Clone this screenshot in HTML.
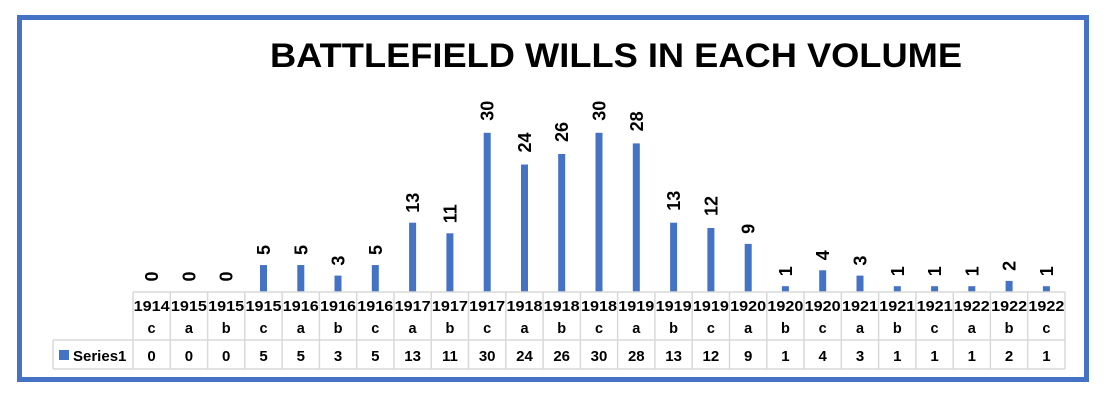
<!DOCTYPE html>
<html><head><meta charset="utf-8"><style>
html,body{margin:0;padding:0;background:#fff;}
svg{display:block;font-family:"Liberation Sans",Arial,sans-serif;font-weight:bold;}
text{font-weight:bold;}
.v{font-size:18px;}
.h{font-size:14.5px;text-anchor:middle;}
.d{font-size:15px;text-anchor:middle;}
.bar{fill:#4472C4;}
.gl{stroke:#D9D9D9;stroke-width:1.5;}
</style></head><body>
<svg width="1108" height="405" viewBox="0 0 1108 405" xmlns="http://www.w3.org/2000/svg">
<rect x="19.5" y="17.5" width="1067" height="362" fill="#fff" stroke="#4472C4" stroke-width="5"/>
<text x="616" y="67" text-anchor="middle" style="font-size:34px;font-weight:bold" textLength="692" lengthAdjust="spacingAndGlyphs">BATTLEFIELD WILLS IN EACH VOLUME</text>

<rect class="bar" x="260" y="265.05" width="7" height="26.45"/>
<rect class="bar" x="297.3" y="265.05" width="7" height="26.45"/>
<rect class="bar" x="334.5" y="275.6" width="7" height="15.9"/>
<rect class="bar" x="371.8" y="265.05" width="7" height="26.45"/>
<rect class="bar" x="409.1" y="222.7" width="7" height="68.8"/>
<rect class="bar" x="446.4" y="233.3" width="7" height="58.2"/>
<rect class="bar" x="483.7" y="132.8" width="7" height="158.7"/>
<rect class="bar" x="521" y="164.5" width="7" height="127"/>
<rect class="bar" x="558.2" y="154" width="7" height="137.5"/>
<rect class="bar" x="595.5" y="132.8" width="7" height="158.7"/>
<rect class="bar" x="632.8" y="143.4" width="7" height="148.1"/>
<rect class="bar" x="670.1" y="222.7" width="7" height="68.8"/>
<rect class="bar" x="707.4" y="228" width="7" height="63.5"/>
<rect class="bar" x="744.7" y="243.9" width="7" height="47.6"/>
<rect class="bar" x="781.9" y="286.2" width="7" height="5.3"/>
<rect class="bar" x="819.2" y="270.3" width="7" height="21.2"/>
<rect class="bar" x="856.5" y="275.6" width="7" height="15.9"/>
<rect class="bar" x="893.8" y="286.2" width="7" height="5.3"/>
<rect class="bar" x="931.1" y="286.2" width="7" height="5.3"/>
<rect class="bar" x="968.3" y="286.2" width="7" height="5.3"/>
<rect class="bar" x="1005.6" y="280.9" width="7" height="10.6"/>
<rect class="bar" x="1042.9" y="286.2" width="7" height="5.3"/>

<text class="v" transform="translate(158.1,281.5) rotate(-90)">0</text>
<text class="v" transform="translate(195.4,281.5) rotate(-90)">0</text>
<text class="v" transform="translate(232.7,281.5) rotate(-90)">0</text>
<text class="v" transform="translate(270,255) rotate(-90)">5</text>
<text class="v" transform="translate(307.3,255) rotate(-90)">5</text>
<text class="v" transform="translate(344.5,265.6) rotate(-90)">3</text>
<text class="v" transform="translate(381.8,255) rotate(-90)">5</text>
<text class="v" transform="translate(419.1,212.7) rotate(-90)">13</text>
<text class="v" transform="translate(456.4,223.3) rotate(-90)">11</text>
<text class="v" transform="translate(493.7,120.8) rotate(-90)">30</text>
<text class="v" transform="translate(531,152.5) rotate(-90)">24</text>
<text class="v" transform="translate(568.2,142) rotate(-90)">26</text>
<text class="v" transform="translate(605.5,120.8) rotate(-90)">30</text>
<text class="v" transform="translate(642.8,131.4) rotate(-90)">28</text>
<text class="v" transform="translate(680.1,210.7) rotate(-90)">13</text>
<text class="v" transform="translate(717.4,216) rotate(-90)">12</text>
<text class="v" transform="translate(754.7,233.9) rotate(-90)">9</text>
<text class="v" transform="translate(791.9,276.2) rotate(-90)">1</text>
<text class="v" transform="translate(829.2,260.3) rotate(-90)">4</text>
<text class="v" transform="translate(866.5,265.6) rotate(-90)">3</text>
<text class="v" transform="translate(903.8,276.2) rotate(-90)">1</text>
<text class="v" transform="translate(941.1,276.2) rotate(-90)">1</text>
<text class="v" transform="translate(978.3,276.2) rotate(-90)">1</text>
<text class="v" transform="translate(1015.6,270.9) rotate(-90)">2</text>
<text class="v" transform="translate(1052.9,276.2) rotate(-90)">1</text>

<g class="h">
<text x="151.6" y="311" textLength="36" lengthAdjust="spacingAndGlyphs">1914</text><text x="151.6" y="333">c</text>
<text x="188.9" y="311" textLength="36" lengthAdjust="spacingAndGlyphs">1915</text><text x="188.9" y="333">a</text>
<text x="226.2" y="311" textLength="36" lengthAdjust="spacingAndGlyphs">1915</text><text x="226.2" y="333">b</text>
<text x="263.5" y="311" textLength="36" lengthAdjust="spacingAndGlyphs">1915</text><text x="263.5" y="333">c</text>
<text x="300.8" y="311" textLength="36" lengthAdjust="spacingAndGlyphs">1916</text><text x="300.8" y="333">a</text>
<text x="338" y="311" textLength="36" lengthAdjust="spacingAndGlyphs">1916</text><text x="338" y="333">b</text>
<text x="375.3" y="311" textLength="36" lengthAdjust="spacingAndGlyphs">1916</text><text x="375.3" y="333">c</text>
<text x="412.6" y="311" textLength="36" lengthAdjust="spacingAndGlyphs">1917</text><text x="412.6" y="333">a</text>
<text x="449.9" y="311" textLength="36" lengthAdjust="spacingAndGlyphs">1917</text><text x="449.9" y="333">b</text>
<text x="487.2" y="311" textLength="36" lengthAdjust="spacingAndGlyphs">1917</text><text x="487.2" y="333">c</text>
<text x="524.5" y="311" textLength="36" lengthAdjust="spacingAndGlyphs">1918</text><text x="524.5" y="333">a</text>
<text x="561.7" y="311" textLength="36" lengthAdjust="spacingAndGlyphs">1918</text><text x="561.7" y="333">b</text>
<text x="599" y="311" textLength="36" lengthAdjust="spacingAndGlyphs">1918</text><text x="599" y="333">c</text>
<text x="636.3" y="311" textLength="36" lengthAdjust="spacingAndGlyphs">1919</text><text x="636.3" y="333">a</text>
<text x="673.6" y="311" textLength="36" lengthAdjust="spacingAndGlyphs">1919</text><text x="673.6" y="333">b</text>
<text x="710.9" y="311" textLength="36" lengthAdjust="spacingAndGlyphs">1919</text><text x="710.9" y="333">c</text>
<text x="748.2" y="311" textLength="36" lengthAdjust="spacingAndGlyphs">1920</text><text x="748.2" y="333">a</text>
<text x="785.4" y="311" textLength="36" lengthAdjust="spacingAndGlyphs">1920</text><text x="785.4" y="333">b</text>
<text x="822.7" y="311" textLength="36" lengthAdjust="spacingAndGlyphs">1920</text><text x="822.7" y="333">c</text>
<text x="860" y="311" textLength="36" lengthAdjust="spacingAndGlyphs">1921</text><text x="860" y="333">a</text>
<text x="897.3" y="311" textLength="36" lengthAdjust="spacingAndGlyphs">1921</text><text x="897.3" y="333">b</text>
<text x="934.6" y="311" textLength="36" lengthAdjust="spacingAndGlyphs">1921</text><text x="934.6" y="333">c</text>
<text x="971.8" y="311" textLength="36" lengthAdjust="spacingAndGlyphs">1922</text><text x="971.8" y="333">a</text>
<text x="1009.1" y="311" textLength="36" lengthAdjust="spacingAndGlyphs">1922</text><text x="1009.1" y="333">b</text>
<text x="1046.4" y="311" textLength="36" lengthAdjust="spacingAndGlyphs">1922</text><text x="1046.4" y="333">c</text>
</g>
<g class="d">
<text x="151.6" y="361">0</text><text x="188.9" y="361">0</text><text x="226.2" y="361">0</text>
<text x="263.5" y="361">5</text><text x="300.8" y="361">5</text><text x="338" y="361">3</text>
<text x="375.3" y="361">5</text><text x="412.6" y="361">13</text><text x="449.9" y="361">11</text>
<text x="487.2" y="361">30</text><text x="524.5" y="361">24</text><text x="561.7" y="361">26</text>
<text x="599" y="361">30</text><text x="636.3" y="361">28</text><text x="673.6" y="361">13</text>
<text x="710.9" y="361">12</text><text x="748.2" y="361">9</text><text x="785.4" y="361">1</text>
<text x="822.7" y="361">4</text><text x="860" y="361">3</text><text x="897.3" y="361">1</text>
<text x="934.6" y="361">1</text><text x="971.8" y="361">1</text><text x="1009.1" y="361">2</text>
<text x="1046.4" y="361">1</text>
</g>

<g class="gl">
<line x1="133" y1="292" x2="1065" y2="292"/>
<line x1="53" y1="340" x2="1065" y2="340"/>
<line x1="53" y1="369" x2="1065" y2="369"/>
<line x1="53" y1="340" x2="53" y2="369"/>
<line x1="133" y1="292" x2="133" y2="369"/>
<line x1="170.3" y1="292" x2="170.3" y2="369"/>
<line x1="207.6" y1="292" x2="207.6" y2="369"/>
<line x1="244.8" y1="292" x2="244.8" y2="369"/>
<line x1="282.1" y1="292" x2="282.1" y2="369"/>
<line x1="319.4" y1="292" x2="319.4" y2="369"/>
<line x1="356.7" y1="292" x2="356.7" y2="369"/>
<line x1="394" y1="292" x2="394" y2="369"/>
<line x1="431.2" y1="292" x2="431.2" y2="369"/>
<line x1="468.5" y1="292" x2="468.5" y2="369"/>
<line x1="505.8" y1="292" x2="505.8" y2="369"/>
<line x1="543.1" y1="292" x2="543.1" y2="369"/>
<line x1="580.4" y1="292" x2="580.4" y2="369"/>
<line x1="617.6" y1="292" x2="617.6" y2="369"/>
<line x1="654.9" y1="292" x2="654.9" y2="369"/>
<line x1="692.2" y1="292" x2="692.2" y2="369"/>
<line x1="729.5" y1="292" x2="729.5" y2="369"/>
<line x1="766.8" y1="292" x2="766.8" y2="369"/>
<line x1="804" y1="292" x2="804" y2="369"/>
<line x1="841.3" y1="292" x2="841.3" y2="369"/>
<line x1="878.6" y1="292" x2="878.6" y2="369"/>
<line x1="915.9" y1="292" x2="915.9" y2="369"/>
<line x1="953.2" y1="292" x2="953.2" y2="369"/>
<line x1="990.4" y1="292" x2="990.4" y2="369"/>
<line x1="1027.7" y1="292" x2="1027.7" y2="369"/>
<line x1="1065" y1="292" x2="1065" y2="369"/>
</g>
<rect x="59" y="350" width="10" height="10" fill="#4472C4"/>
<text x="73" y="361" style="font-size:15px;font-weight:bold">Series1</text>
</svg>
</body></html>
